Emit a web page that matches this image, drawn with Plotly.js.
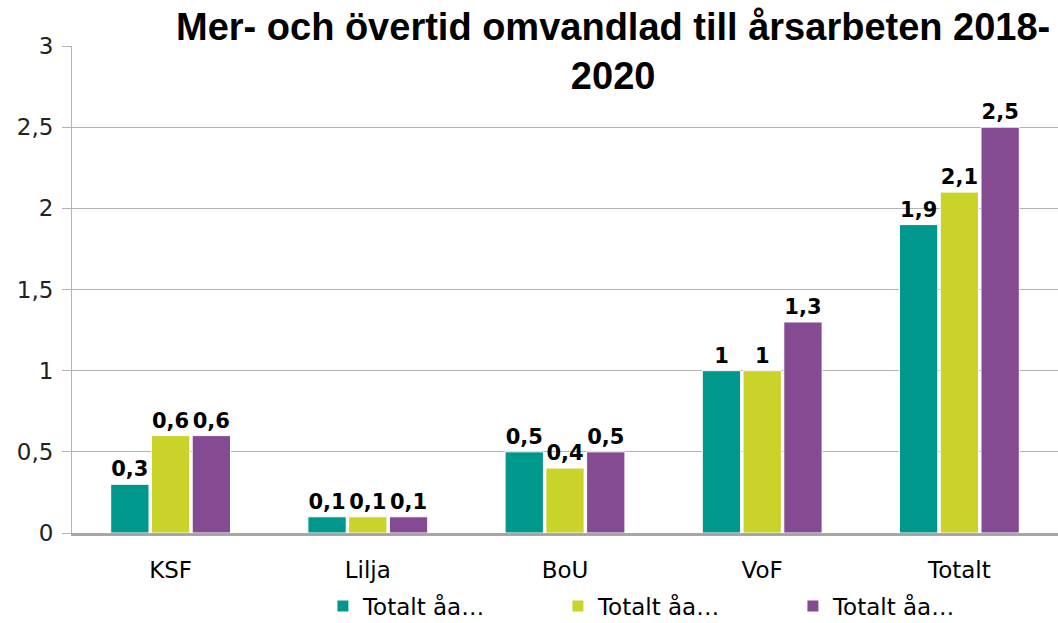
<!DOCTYPE html>
<html>
<head>
<meta charset="utf-8">
<script src="https://cdn.plot.ly/plotly-3.0.1.min.js"></script>
<style>html,body{margin:0;padding:0;background:#fff;}#chart{width:1058px;height:623px;}</style>
</head>
<body>
<div id="chart"></div>
<script>
const categories = ["KSF", "Lilja", "BoU", "VoF", "Totalt"];
const seriesNames = ["Totalt åa…", "Totalt åa…", "Totalt åa…"];
const series1 = [0.3, 0.1, 0.5, 1, 1.9];
const series2 = [0.6, 0.1, 0.4, 1, 2.1];
const series3 = [0.6, 0.1, 0.5, 1.3, 2.5];
const yTicks = [0, 0.5, 1, 1.5, 2, 2.5, 3];
const titleText = 'Mer- och övertid omvandlad till årsarbeten 2018-<br>2020';
const colors = ["#00978D", "#C9D32A", "#844B93"];

const fmt = v => String(v).replace('.', ',');
const allSeries = [series1, series2, series3];
const traces = allSeries.map((vals, i) => ({
  type: 'bar',
  x: categories,
  y: vals,
  name: seriesNames[i],
  marker: {color: colors[i], line: {color: '#ffffff', width: 1}},
  text: vals.map(fmt),
  textposition: 'outside',
  cliponaxis: false,
  textfont: {family: 'DejaVu Sans, sans-serif', size: 21, color: '#000', weight: 'bold'},
  hoverinfo: 'none'
}));

const layout = {
  width: 1058, height: 623,
  margin: {l: 72, r: 0, t: 46, b: 90, autoexpand: false},
  paper_bgcolor: '#fff', plot_bgcolor: '#fff',
  separators: ',.',
  barmode: 'group',
  bargap: 0.38,
  bargroupgap: 0.06,
  font: {family: 'DejaVu Sans, sans-serif', color: '#000'},
  annotations: [{
    text: titleText,
    xref: 'paper', yref: 'paper',
    x: 0.549, xanchor: 'center',
    y: 1.086, yanchor: 'top',
    showarrow: false,
    font: {family: 'Liberation Sans Narrow, Liberation Sans, Arial, sans-serif', size: 38, color: '#000', weight: 'bold'}
  }],
  xaxis: {
    type: 'category',
    showgrid: false,
    showline: true, linecolor: '#a6a6a6', linewidth: 3,
    ticks: '', tickfont: {size: 23, color: '#000'},
    ticklabelstandoff: 14,
    automargin: false
  },
  yaxis: {
    range: [0, 3],
    tickvals: yTicks,
    showgrid: true, gridcolor: '#b3b3b3', gridwidth: 1,
    showline: true, linecolor: '#b3b3b3', linewidth: 1,
    ticks: 'outside', ticklen: 9, tickcolor: '#b3b3b3',
    tickfont: {size: 23, color: '#222'},
    zeroline: false,
    ticklabelstandoff: 4,
    automargin: false
  },
  legend: {
    orientation: 'h', x: 0.612, xanchor: 'center', y: -0.150, yanchor: 'middle',
    font: {size: 23, color: '#000'},
    entrywidth: 190, entrywidthmode: 'pixels',
    itemwidth: 30, traceorder: 'normal'
  },
  showlegend: true
};

Plotly.newPlot('chart', traces, layout, {displayModeBar: false, staticPlot: true});
</script>
</body>
</html>
